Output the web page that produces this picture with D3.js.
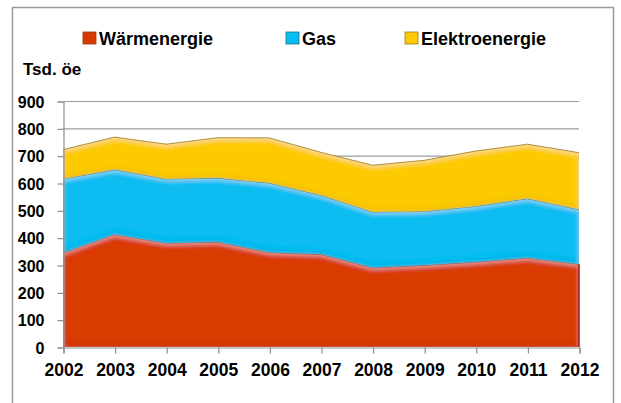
<!DOCTYPE html>
<html>
<head>
<meta charset="utf-8">
<script src="https://cdn.jsdelivr.net/npm/d3@7"></script>
<style>
  body { margin: 0; background: #fff; }
  text { font-family: "Liberation Sans", Arial, sans-serif; font-weight: bold; fill: #000; }
</style>
</head>
<body>
<div id="chart"></div>
<script>
// data (Tsd. öe)
var years = ["2002", "2003", "2004", "2005", "2006", "2007", "2008", "2009", "2010", "2011", "2012"];
var waerme = [344, 412, 380, 384, 346, 339, 290, 299, 311, 326, 303];
var gas = [271, 237, 235, 234, 254, 216, 204, 197, 204, 217, 200];
var elektro = [107, 119, 127, 148, 165, 157, 171, 187, 202, 199, 208];
var seriesNames = ["Wärmenergie", "Gas", "Elektroenergie"];
var yTicks = [0, 100, 200, 300, 400, 500, 600, 700, 800, 900];

var colors = ["#d93a02", "#08bdf2", "#fdca05"];
var edges = ["#8e3a1a", "#1f6f8a", "#9a7a20"];

var svgWidth = 621, svgHeight = 403;
var svg = d3.select("#chart").append("svg")
    .attr("width", svgWidth)
    .attr("height", svgHeight);

// outer frame
svg.append("rect")
    .attr("x", 12.5).attr("y", 7.5)
    .attr("width", 601).attr("height", 420)
    .attr("fill", "#fff")
    .attr("stroke", "#9a9a9a")
    .attr("stroke-width", 1.5);

var x = d3.scalePoint().domain(years).range([63, 579]);
var y = d3.scaleLinear().domain([0, 900]).range([347, 101]);

// table for the stack
var table = years.map(function(yr, i) {
  return { year: yr, "Wärmenergie": waerme[i], "Gas": gas[i], "Elektroenergie": elektro[i] };
});
var stacked = d3.stack().keys(seriesNames)(table);

// gridlines
svg.append("g")
    .selectAll("line")
    .data(yTicks.slice(1))
    .enter()
    .append("line")
    .attr("x1", 63).attr("x2", 579)
    .attr("y1", d => y(d) + 0.5).attr("y2", d => y(d) + 0.5)
    .attr("stroke", "#9c9c9c")
    .attr("stroke-width", 1.2);

// soft highlight + inner shadow for the 3D look
var defs = svg.append("defs");
var filter = defs.append("filter").attr("id", "soft")
    .attr("x", "-5%").attr("y", "-5%").attr("width", "110%").attr("height", "110%");
filter.append("feGaussianBlur").attr("in", "SourceAlpha").attr("stdDeviation", 2.2).attr("result", "blur");
filter.append("feOffset").attr("in", "blur").attr("dy", 2).attr("result", "off");
filter.append("feComposite").attr("in", "SourceAlpha").attr("in2", "off").attr("operator", "out").attr("result", "rim");
filter.append("feFlood").attr("flood-color", "#ffffff").attr("flood-opacity", 0.3);
filter.append("feComposite").attr("in2", "rim").attr("operator", "in").attr("result", "hl");
filter.append("feOffset").attr("in", "blur").attr("dy", -3).attr("result", "off2");
filter.append("feComposite").attr("in", "SourceAlpha").attr("in2", "off2").attr("operator", "out").attr("result", "rim2");
filter.append("feFlood").attr("flood-color", "#000000").attr("flood-opacity", 0.12);
filter.append("feComposite").attr("in2", "rim2").attr("operator", "in").attr("result", "sh");
var merge = filter.append("feMerge");
merge.append("feMergeNode").attr("in", "SourceGraphic");
merge.append("feMergeNode").attr("in", "hl");
merge.append("feMergeNode").attr("in", "sh");

var area = d3.area()
    .x(d => x(d.data.year))
    .y0(d => y(d[0]))
    .y1(d => y(d[1]));

var topLine = d3.line()
    .x(d => x(d.data.year))
    .y(d => y(d[1]));

var layers = svg.append("g").selectAll("g")
    .data(stacked)
    .enter()
    .append("g");

layers.append("path")
    .attr("d", area)
    .attr("fill", (d, i) => colors[i])
    .attr("filter", "url(#soft)");

layers.append("path")
    .attr("d", topLine)
    .attr("fill", "none")
    .attr("stroke", (d, i) => edges[i])
    .attr("stroke-opacity", 0.8)
    .attr("stroke-width", 1);

// right edge of the areas
svg.append("line")
    .attr("x1", 579).attr("x2", 579)
    .attr("y1", y(0)).attr("y2", y(waerme[10]))
    .attr("stroke", "#a01800").attr("stroke-width", 1.5);

// axes
var leftAxis = d3.axisLeft(y).tickValues(yTicks).tickSize(6).tickPadding(12);
var bottomAxis = d3.axisBottom(x).tickSize(6).tickPadding(10);

var gy = svg.append("g")
    .attr("transform", "translate(63.5,0.5)")
    .call(leftAxis);
gy.selectAll("text")
    .attr("font-size", "16px")
    .attr("dx", "-1")
    .attr("dy", "0.36em");

var gx = svg.append("g")
    .attr("transform", "translate(0.5,347.5)")
    .call(bottomAxis);
gx.selectAll("text")
    .attr("font-size", "17.5px");

svg.selectAll(".domain, .tick line")
    .attr("stroke", "#8f8f8f")
    .attr("stroke-width", 1.2);

// y axis title
svg.append("text")
    .attr("x", 23).attr("y", 75)
    .attr("font-size", "17px")
    .text("Tsd. öe");

// legend
var legendX = [83, 286, 405];
var legend = svg.append("g").selectAll("g")
    .data(seriesNames)
    .enter()
    .append("g")
    .attr("transform", (d, i) => `translate(${legendX[i]}, 32)`);

legend.append("rect")
    .attr("width", 13).attr("height", 12)
    .attr("fill", (d, i) => colors[i])
    .attr("stroke", (d, i) => edges[i])
    .attr("stroke-width", 0.8);

legend.append("text")
    .attr("x", 16).attr("y", 12.5)
    .attr("font-size", "18px")
    .text(d => d);
</script>
</body>
</html>
